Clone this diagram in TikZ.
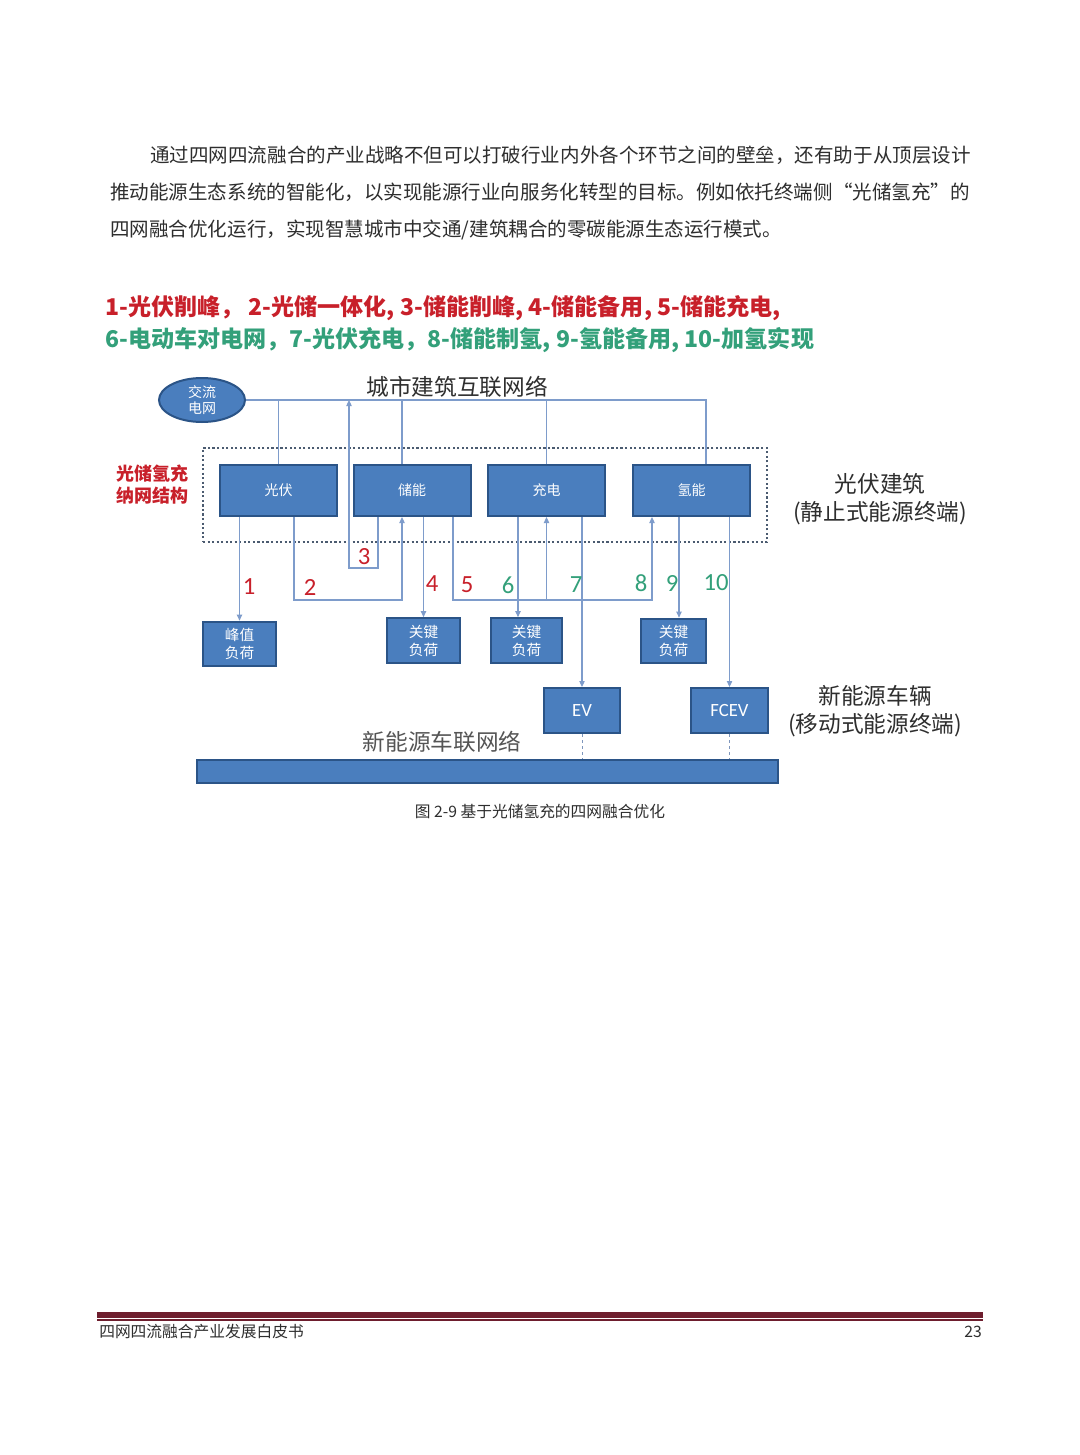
\documentclass[tikz,border=0pt]{standalone}
\usepackage{fontspec}
\setmainfont{Noto Sans CJK SC}
\newfontfamily\cjk{Noto Sans CJK SC}
\newfontfamily\calib{Carlito}
\usetikzlibrary{arrows.meta,positioning,shapes.geometric,calc}
\definecolor{blockblue}{HTML}{4A7EBE}
\definecolor{edgeblue}{HTML}{2B5487}
\definecolor{wireblue}{HTML}{7E9CCB}
\definecolor{tagred}{HTML}{C8202A}
\definecolor{taggreen}{HTML}{33A07A}
\definecolor{inkgray}{HTML}{2E2E2E}
\definecolor{softgray}{HTML}{555555}
\definecolor{framegray}{HTML}{4B5B70}
\definecolor{footred}{HTML}{6E1E2E}
\tikzset{
  unitbox/.style={rectangle,draw=edgeblue,line width=1.5pt,fill=blockblue,text=white,font=\cjk\fontsize{10.5}{13}\selectfont,align=center,inner sep=0pt,minimum width=87.75pt,minimum height=38.25pt},
  loadbox/.style={unitbox,font=\cjk\fontsize{11}{13.5}\selectfont,minimum width=54.75pt,minimum height=33.5pt},
  carbox/.style={unitbox,font=\calib\fontsize{14}{16}\selectfont,minimum width=57.5pt,minimum height=33.75pt},
  gridoval/.style={ellipse,draw=edgeblue,line width=1.5pt,fill=blockblue,text=white,font=\cjk\fontsize{10.5}{12.5}\selectfont,align=center,inner sep=0pt,minimum width=64.5pt,minimum height=33pt},
  hubframe/.style={rectangle,draw=framegray,line width=1.6pt,dash pattern=on 1.6pt off 1.8pt,minimum width=423pt,minimum height=70.5pt,inner sep=0pt},
  busbar/.style={rectangle,draw=edgeblue,line width=1.5pt,fill=blockblue,minimum width=435.75pt,minimum height=17.25pt,inner sep=0pt},
  wire/.style={draw=wireblue,line width=0.85pt},
  feed/.style={wire,-{Triangle[length=4.5pt,width=4pt]}},
  linkdash/.style={draw=wireblue!80!gray,line width=0.7pt,dash pattern=on 2.5pt off 2pt},
  bigtext/.style={font=\cjk\fontsize{17}{21}\selectfont,text=inkgray,align=center,inner sep=0pt},
  paratext/.style={font=\cjk\fontsize{14.65}{17}\selectfont,text=inkgray,anchor=west,inner sep=0pt},
  keyline/.style={font=\cjk\bfseries\fontsize{17.3}{20}\selectfont,anchor=west,inner sep=0pt},
  numred/.style={font=\calib\fontsize{18.5}{20}\selectfont,text=tagred,inner sep=0pt},
  numgreen/.style={font=\calib\fontsize{18.5}{20}\selectfont,text=taggreen,inner sep=0pt}
}
\begin{document}
\begin{tikzpicture}[x=0.75pt,y=-0.75pt]
  \useasboundingbox (0,0) rectangle (1080,1455);
  \fill[white] (0,0) rectangle (1080,1455);

  % body text
  \node[paratext] (para1) at (150,155) {通过四网四流融合的产业战略不但可以打破行业内外各个环节之间的壁垒，还有助于从顶层设计};
  \node[paratext] (para2) at (110,192) {推动能源生态系统的智能化，以实现能源行业向服务化转型的目标。例如依托终端侧“光储氢充”的};
  \node[paratext] (para3) at (110,230) {四网融合优化运行，实现智慧城市中交通/建筑耦合的零碳能源生态运行模式。};

  % legend
  \node[keyline,text=tagred] (keyred) at (105,308) {1-光伏削峰，\ 2-光储一体化, 3-储能削峰, 4-储能备用, 5-储能充电,};
  \node[keyline,text=taggreen] (keygreen) at (105,340) {6-电动车对电网，7-光伏充电，8-储能制氢, 9-氢能备用, 10-加氢实现};

  % grid and building side
  \node[gridoval] (acgrid) at (202,400) {交流\\电网};
  \node[bigtext] (citynet) at (457,387) {城市建筑互联网络};
  \node[hubframe] (hub) at (485,495) {};
  \node[font=\cjk\bfseries\fontsize{13.5}{16.5}\selectfont,text=tagred,align=center,inner sep=0pt] (hubtag) at (152,485) {光储氢充\\纳网结构};
  \node[bigtext] (pvbuild) at (880,499) {光伏建筑\\(静止式能源终端)};

  \node[unitbox] (pv)  at (278.5,490.5) {光伏};
  \node[unitbox] (ess) at (412,490.5) {储能};
  \node[unitbox] (chg) at (546.5,490.5) {充电};
  \node[unitbox] (h2)  at (691.5,490.5) {氢能};

  \node[loadbox] (peak) at (239.5,644) {峰值\\负荷};
  \node[loadbox] (key1) at (423.5,640.5) {关键\\负荷};
  \node[loadbox,minimum width=53.25pt] (key2) at (526.5,640.5) {关键\\负荷};
  \node[loadbox,minimum width=48.75pt] (key3) at (673.5,641) {关键\\负荷};

  \node[carbox] (ev)   at (582,710.5) {EV};
  \node[carbox] (fcev) at (729.5,710.5) {FCEV};
  \node[bigtext] (evgroup) at (875,711) {新能源车辆\\(移动式能源终端)};
  \node[bigtext,text=softgray] (vnet) at (442,742) {新能源车联网络};
  \node[busbar] (evbus) at (487.5,771.5) {};

  % city bus
  \coordinate (busend) at (706,400);
  \coordinate (essdrop) at (402,600);
  \draw[wire] (acgrid.east) -- (busend) -- (busend |- h2.north);
  \draw[wire] (pv.north) -- (pv.north |- acgrid.east);
  \draw[wire] (essdrop |- ess.north) -- (essdrop |- acgrid.east);
  \draw[wire] (chg.north) -- (chg.north |- acgrid.east);

  % energy flows
  \coordinate (turn2) at (294,600);
  \coordinate (turn3a) at (378,568);
  \coordinate (turn3b) at (349,568);
  \coordinate (turn5) at (453,600);
  \coordinate (turn8) at (652,600);
  \coordinate (lane6) at (518,640);
  \coordinate (lane9) at (679,640);
  \draw[feed] (pv.south -| peak.north) -- (peak.north);
  \draw[feed] (turn2 |- pv.south) -- (turn2) -- (essdrop) -- (essdrop |- ess.south);
  \draw[feed] (turn3a |- ess.south) -- (turn3a) -- (turn3b) -- (turn3b |- acgrid.east);
  \draw[feed] (ess.south -| key1.north) -- (key1.north);
  \draw[feed] (turn5 |- ess.south) -- (turn5) -- (turn8) -- (turn8 |- h2.south);
  \draw[feed] (chg.south |- turn5) -- (chg.south);
  \draw[feed] (lane6 |- chg.south) -- (lane6 |- key2.north);
  \draw[feed] (chg.south -| ev.north) -- (ev.north);
  \draw[feed] (lane9 |- h2.south) -- (lane9 |- key3.north);
  \draw[feed] (h2.south -| fcev.north) -- (fcev.north);
  \draw[linkdash] (ev.south) -- (ev.south |- evbus.north);
  \draw[linkdash] (fcev.south) -- (fcev.south |- evbus.north);

  % flow numbers
  \node[numred] (n1) at (249,587) {1};
  \node[numred] (n2) at (310,587) {2};
  \node[numred] (n3) at (364,557) {3};
  \node[numred] (n4) at (432,584) {4};
  \node[numred] (n5) at (467,585) {5};
  \node[numgreen] (n6) at (508,585) {6};
  \node[numgreen] (n7) at (576,585) {7};
  \node[numgreen] (n8) at (641,583) {8};
  \node[numgreen] (n9) at (672,583) {9};
  \node[numgreen] (n10) at (716,583) {10};

  % caption and footer
  \node[font=\cjk\fontsize{11.8}{14}\selectfont,text=inkgray,inner sep=0pt] (caption) at (540,811) {图 2-9 基于光储氢充的四网融合优化};
  \fill[footred] (97,1312) rectangle (983,1318);
  \fill[footred] (97,1319.3) rectangle (983,1320.8);
  \node[font=\cjk\fontsize{11.8}{14}\selectfont,text=inkgray,anchor=west,inner sep=0pt] (foottitle) at (99,1332) {四网四流融合产业发展白皮书};
  \node[font=\cjk\fontsize{11.8}{14}\selectfont,text=inkgray,anchor=east,inner sep=0pt] (pageno) at (982,1332) {23};
\end{tikzpicture}
\end{document}
